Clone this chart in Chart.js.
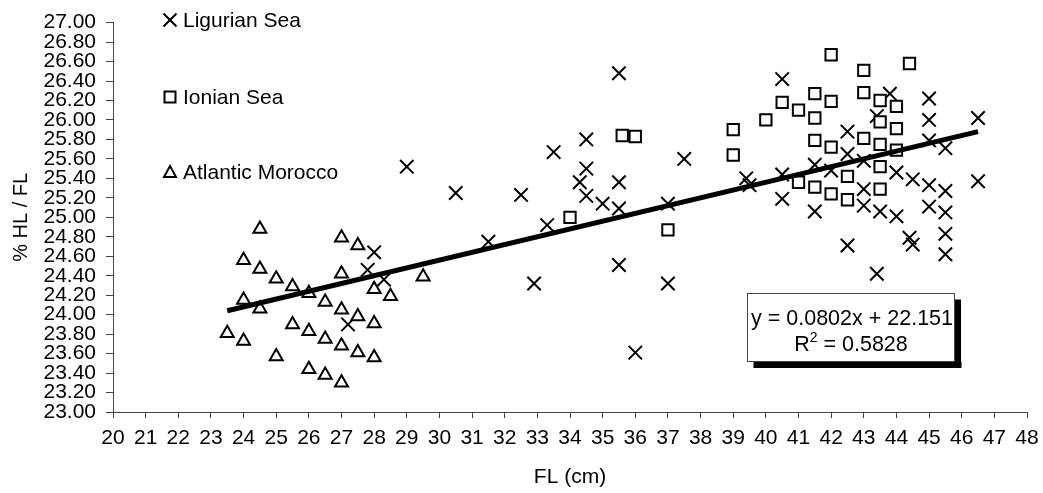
<!DOCTYPE html>
<html>
<head>
<meta charset="utf-8">
<script src="https://cdn.jsdelivr.net/npm/chart.js@4.4.1/dist/chart.umd.min.js"></script>
<style>
  html, body { margin: 0; padding: 0; background: #fff; }
  #wrap { width: 1043px; height: 493px; }
</style>
</head>
<body>
<div id="wrap"><canvas id="myChart"></canvas></div>
<script>
// DATA //
const liguX = [27.2, 27.8, 28.0, 28.3, 29.0, 30.5, 31.5, 32.5, 32.9, 33.3, 33.5, 34.3, 34.5, 34.5, 34.5, 35.0,
  35.5, 35.5, 35.5, 35.5, 36.0, 37.0, 37.0, 37.5, 39.4, 39.5, 40.5, 40.5, 40.5, 41.5, 41.5, 42.0,
  42.5, 42.5, 42.5, 43.0, 43.0, 43.0, 43.4, 43.4, 43.5, 43.8, 44.0, 44.0, 44.4, 44.5, 44.5,
  45.0, 45.0, 45.0, 45.0, 45.0, 45.5, 45.5, 45.5, 45.5, 45.5, 46.5, 46.5];
const liguY = [23.90, 24.46, 24.64, 24.36, 25.52, 25.25, 24.75, 25.23, 24.32, 24.92, 25.67, 25.36, 25.80, 25.50, 25.22, 25.14,
  26.48, 25.36, 25.09, 24.51, 23.61, 25.14, 24.32, 25.60, 25.40, 25.33, 26.42, 25.44, 25.19, 25.54, 25.06, 25.48,
  25.88, 25.65, 24.71, 25.58, 25.29, 25.12, 26.04, 24.42, 25.06, 26.27, 25.46, 25.01, 24.79, 25.39, 24.72,
  26.22, 26.00, 25.79, 25.33, 25.11, 25.71, 25.27, 25.05, 24.83, 24.62, 26.02, 25.37];

const ionX = [34.0, 35.6, 36.0, 37.0, 39.0, 39.0, 40.0, 40.5, 41.0, 41.0, 41.5, 41.5, 41.5, 41.5, 42.0, 42.0,
  42.0, 42.0, 42.5, 42.5, 43.0, 43.0, 43.0, 43.5, 43.5, 43.5, 43.5, 43.5, 44.0, 44.0, 44.0, 44.4];
const ionY = [25.00, 25.84, 25.83, 24.87, 25.90, 25.64, 26.00, 26.18, 26.10, 25.36, 26.27, 26.02, 25.79, 25.31, 26.67, 26.19,
  25.72, 25.24, 25.42, 25.18, 26.51, 26.28, 25.81, 26.20, 25.98, 25.75, 25.52, 25.29, 26.14, 25.91, 25.69, 26.58];

const atlX = [23.5, 24.0, 24.0, 24.0, 24.5, 24.5, 24.5, 25.0, 25.0, 25.5, 25.5, 26.0, 26.0, 26.0, 26.5, 26.5,
  26.5, 27.0, 27.0, 27.0, 27.0, 27.0, 27.5, 27.5, 27.5, 28.0, 28.0, 28.0, 28.5, 29.5];
const atlY = [23.81, 24.56, 24.15, 23.73, 24.88, 24.47, 24.06, 24.37, 23.57, 24.29, 23.90, 24.22, 23.83, 23.44, 24.13, 23.75,
  23.38, 24.79, 24.42, 24.05, 23.68, 23.30, 24.71, 23.98, 23.61, 24.26, 23.91, 23.56, 24.19, 24.39];

// linea de tendencia (extremos)
const trendX = [23.5, 46.5];
const trendY = [24.04, 25.88];

const seriesNames = ["Ligurian Sea", "Ionian Sea", "Atlantic Morocco"];
const xTitle = "FL (cm)";
const yTitle = "% HL / FL";
const eqText = "y = 0.0802x + 22.151";
const r2Text = "0.5828";

const FONT = "'Liberation Sans', Arial, sans-serif";

function toPoints(xs, ys) {
  return xs.map((x, i) => ({ x: x, y: ys[i] }));
}

// LEYENDA Y CAJA DE ECUACION //
const extras = {
  id: "extras",
  afterDraw(chart) {
    const ctx = chart.ctx;
    ctx.save();
    ctx.strokeStyle = "#000";
    ctx.fillStyle = "#fff";
    ctx.lineWidth = 2;

    // leyenda
    const lx = 170;
    const rows = [20, 97, 172];
    // cruz
    ctx.beginPath();
    ctx.moveTo(lx - 6.5, rows[0] - 6.5); ctx.lineTo(lx + 6.5, rows[0] + 6.5);
    ctx.moveTo(lx + 6.5, rows[0] - 6.5); ctx.lineTo(lx - 6.5, rows[0] + 6.5);
    ctx.stroke();
    // cuadrado
    ctx.strokeRect(lx - 5.5, rows[1] - 5.5, 11, 11);
    // triangulo
    ctx.beginPath();
    ctx.moveTo(lx, rows[2] - 6);
    ctx.lineTo(lx + 6, rows[2] + 5);
    ctx.lineTo(lx - 6, rows[2] + 5);
    ctx.closePath();
    ctx.stroke();

    ctx.fillStyle = "#000";
    ctx.font = "21px " + FONT;
    ctx.textAlign = "left";
    ctx.textBaseline = "middle";
    seriesNames.forEach((n, i) => ctx.fillText(n, 183, rows[i] + 1));

    // caja ecuacion
    const bx = 747.5, by = 293.5, bw = 207, bh = 68;
    ctx.fillStyle = "#000";
    ctx.fillRect(bx + 6, by + bh, bw + 1, 6.5);
    ctx.fillRect(bx + bw, by + 6, 6.5, bh + 0.5);
    ctx.fillStyle = "#fff";
    ctx.fillRect(bx, by, bw, bh);
    ctx.lineWidth = 1;
    ctx.strokeStyle = "#444";
    ctx.strokeRect(bx, by, bw, bh);

    ctx.fillStyle = "#000";
    ctx.textAlign = "center";
    ctx.font = "21.5px " + FONT;
    ctx.fillText(eqText, bx + bw / 2 + 1, by + 26);

    // R^2 con superindice
    const a = "R", b = " = " + r2Text;
    ctx.font = "21.5px " + FONT;
    const wa = ctx.measureText(a).width;
    const wb = ctx.measureText(b).width;
    ctx.font = "14px " + FONT;
    const ws = ctx.measureText("2").width;
    let sx = bx + bw / 2 - (wa + ws + wb) / 2;
    ctx.textAlign = "left";
    ctx.font = "21.5px " + FONT;
    ctx.fillText(a, sx, by + 52);
    ctx.font = "14px " + FONT;
    ctx.fillText("2", sx + wa, by + 45);
    ctx.font = "21.5px " + FONT;
    ctx.fillText(b, sx + wa + ws, by + 52);
    ctx.restore();
  },
};

const ctx = document.getElementById("myChart").getContext("2d");
new Chart(ctx, {
  type: "scatter",
  data: {
    datasets: [
      {
        label: "Trend",
        type: "line",
        data: toPoints(trendX, trendY),
        borderColor: "#000",
        borderWidth: 5,
        pointRadius: 0,
        fill: false,
        order: 0,
      },
      {
        label: seriesNames[1],
        data: toPoints(ionX, ionY),
        pointStyle: "rect",
        pointRadius: 8,
        borderColor: "#000",
        backgroundColor: "#fff",
        borderWidth: 2,
        order: 1,
      },
      {
        label: seriesNames[2],
        data: toPoints(atlX, atlY),
        pointStyle: "triangle",
        pointRadius: 7.5,
        borderColor: "#000",
        backgroundColor: "#fff",
        borderWidth: 2,
        order: 2,
      },
      {
        label: seriesNames[0],
        data: toPoints(liguX, liguY),
        pointStyle: "crossRot",
        pointRadius: 9.5,
        borderColor: "#000",
        borderWidth: 2,
        order: 3,
      },
    ],
  },
  options: {
    responsive: true,
    maintainAspectRatio: false,
    animation: false,
    layout: { padding: { top: 19, right: 16, left: 0, bottom: 0 } },
    plugins: {
      legend: { display: false },
      tooltip: { enabled: false },
    },
    scales: {
      x: {
        type: "linear",
        min: 20,
        max: 48,
        afterFit: (s) => {
          s.height = 81;
          s.paddingLeft = 0;
          s.paddingRight = 0;
        },
        ticks: {
          stepSize: 1,
          color: "#000",
          padding: 8,
          maxRotation: 0,
          autoSkip: false,
          font: { family: FONT, size: 21 },
        },
        grid: { drawOnChartArea: false, tickLength: 6, color: "#444" },
        border: { color: "#444", width: 1 },
        title: {
          display: true,
          text: xTitle,
          color: "#000",
          font: { family: FONT, size: 21 },
          padding: { top: 3, bottom: 3 },
        },
      },
      y: {
        min: 23,
        max: 27,
        afterFit: (s) => { s.width = 113; },
        ticks: {
          stepSize: 0.2,
          color: "#000",
          padding: 10,
          autoSkip: false,
          font: { family: FONT, size: 21 },
          callback: (v) => Number(v).toFixed(2),
        },
        grid: { drawOnChartArea: false, tickLength: 7, color: "#444" },
        border: { color: "#444", width: 1 },
        title: {
          display: true,
          text: yTitle,
          color: "#000",
          font: { family: FONT, size: 20 },
          padding: { top: 9, bottom: 9 },
        },
      },
    },
  },
  plugins: [extras],
});
</script>
</body>
</html>
